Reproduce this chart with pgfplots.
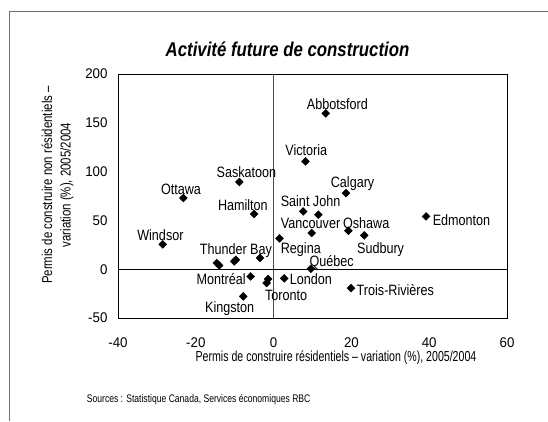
\documentclass[border=0pt]{standalone}
\usepackage{fontspec}
\setmainfont{Liberation Sans}[FakeStretch=0.84]
\newfontfamily\tickfont{Liberation Sans}[FakeStretch=0.95]
\newfontfamily\labfont{Liberation Sans}[FakeStretch=0.73]
\newfontfamily\ylabfont{Liberation Sans}[FakeStretch=0.80]
\newfontfamily\srcfont{Liberation Sans}[FakeStretch=0.78]
\usepackage{pgfplots}
\pgfplotsset{compat=1.18}
\usepackage{pgfplotstable}
\pgfplotstableread{
x y
13.4 159.6
8.2 110.5
18.6 78.0
7.6 59.2
11.5 55.8
9.8 37.1
19.2 39.4
23.3 34.6
39.2 54.1
1.5 31.6
9.6 0.5
2.75 -9.4
19.9 -19.3
-1.4 -10.0
-1.8 -14.1
-7.8 -27.9
-5.9 -7.4
-3.5 11.5
-10.1 8.0
-9.7 9.7
-14.6 6.3
-14.0 3.9
-28.5 25.4
-23.2 73.0
-5.0 56.5
-8.8 89.3
}\villes
\definecolor{framegray}{RGB}{110,110,110}
\tikzset{citylab/.style={font=\fontsize{15}{17}\selectfont, anchor=base, inner sep=0pt, yshift=-5.4pt}}
\begin{document}
\begin{tikzpicture}[x=1pt,y=1pt]
\useasboundingbox (0,0) rectangle (548,421);
\draw[framegray,line width=0.9pt] (9,0) -- (9,410) -- (560,410);
\begin{axis}[
  at={(118pt,103pt)}, anchor=south west,
  scale only axis, width=389pt, height=244pt,
  xmin=-40, xmax=60, ymin=-50, ymax=200,
  xtick={-40,-20,0,20,40,60},
  ytick={-50,0,50,100,150,200},
  major tick length=0pt,
  axis line style={black, line width=0.8pt},
  /pgf/number format/assume math mode=true,
  tick label style={font=\tickfont\fontsize{14}{16}\selectfont},
  xticklabel style={anchor=north, yshift=-16pt},
  yticklabel style={anchor=east, xshift=-7pt},
  extra x ticks={0}, extra y ticks={0},
  extra x tick labels={}, extra y tick labels={},
  extra x tick style={grid=major, major grid style={black!70, line width=0.8pt}},
  extra y tick style={grid=major, major grid style={black, line width=0.8pt}},
  clip=false,
]
\addplot[only marks, mark=square*, mark size=2.8pt, mark options={rotate=45, fill=black, draw=black}] table[x=x,y=y] {\villes};
\node[citylab] at (axis cs:16.4,169) {Abbotsford};
\node[citylab] at (axis cs:8.4,122.2) {Victoria};
\node[citylab] at (axis cs:20.3,89.1) {Calgary};
\node[citylab] at (axis cs:9.5,69.3) {Saint John};
\node[citylab] at (axis cs:9.5,47.1) {Vancouver};
\node[citylab] at (axis cs:23.8,47.1) {Oshawa};
\node[citylab] at (axis cs:48.3,49.8) {Edmonton};
\node[citylab] at (axis cs:7.0,21.5) {Regina};
\node[citylab] at (axis cs:27.5,21.5) {Sudbury};
\node[citylab] at (axis cs:14.9,7.8) {Québec};
\node[citylab] at (axis cs:9.6,-10.2) {London};
\node[citylab] at (axis cs:31.3,-21.5) {Trois-Rivières};
\node[citylab] at (axis cs:3.2,-26.3) {Toronto};
\node[citylab] at (axis cs:-29.1,35.1) {Windsor};
\node[citylab] at (axis cs:-9.7,20.5) {Thunder Bay};
\node[citylab] at (axis cs:-13.5,-10.2) {Montréal};
\node[citylab] at (axis cs:-11.3,-38.9) {Kingston};
\node[citylab] at (axis cs:-7.0,99.6) {Saskatoon};
\node[citylab] at (axis cs:-23.8,82) {Ottawa};
\node[citylab] at (axis cs:-7.9,65.2) {Hamilton};
\end{axis}
\node[anchor=base, inner sep=0pt, font=\fontsize{20}{24}\selectfont\bfseries\itshape] at (287.5,364) {Activité future de construction};
\node[anchor=base, inner sep=0pt, font=\labfont\fontsize{14.5}{17}\selectfont] at (336,59.5) {Permis de construire résidentiels – variation (\%), 2005/2004};
\node[rotate=90, align=center, inner sep=0pt, font=\ylabfont\fontsize{14.3}{18.5}\selectfont] at (57.5,236) {Permis de construire non résidentiels –\\variation (\%), 2005/2004};
\node[anchor=west, inner sep=0pt, font=\srcfont\fontsize{11}{13}\selectfont] at (86.7,21) {Sources : Statistique Canada, Services économiques RBC};
\end{tikzpicture}
\end{document}
